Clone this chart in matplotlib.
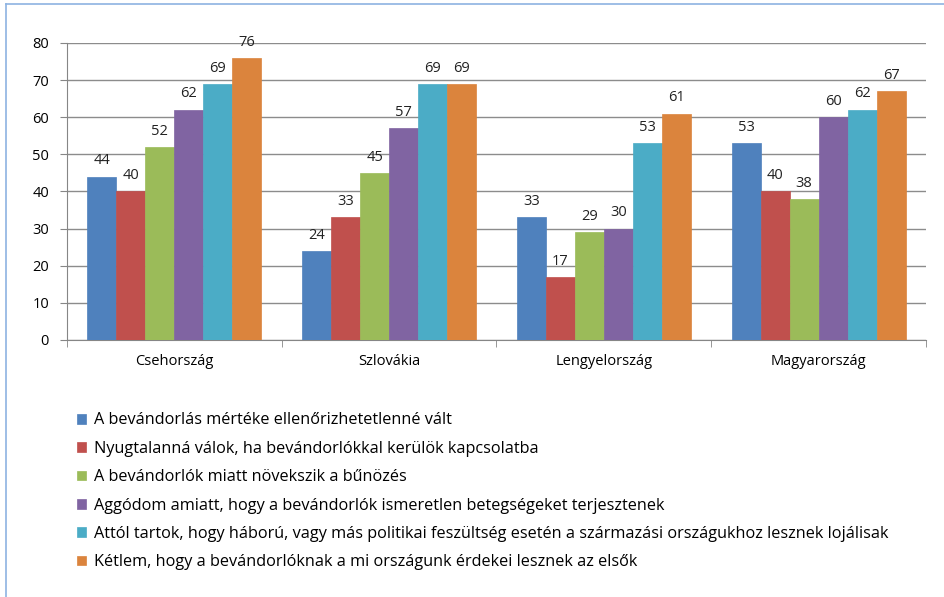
import matplotlib
matplotlib.use("Agg")
import matplotlib.pyplot as plt
import numpy as np
from matplotlib.lines import Line2D

plt.rcParams['font.family'] = ['Open Sans', 'DejaVu Sans']

countries = ["Csehország", "Szlovákia", "Lengyelország", "Magyarország"]
series_names = [
    "A bevándorlás mértéke ellenőrizhetetlenné vált",
    "Nyugtalanná válok, ha bevándorlókkal kerülök kapcsolatba",
    "A bevándorlók miatt növekszik a bűnözés",
    "Aggódom amiatt, hogy a bevándorlók ismeretlen betegségeket terjesztenek",
    "Attól tartok, hogy háború, vagy más politikai feszültség esetén a származási országukhoz lesznek lojálisak",
    "Kétlem, hogy a bevándorlóknak a mi országunk érdekei lesznek az elsők",
]
s1 = [44, 24, 33, 53]
s2 = [40, 33, 17, 40]
s3 = [52, 45, 29, 38]
s4 = [62, 57, 30, 60]
s5 = [69, 69, 53, 62]
s6 = [76, 69, 61, 67]
series = [s1, s2, s3, s4, s5, s6]
colors = ["#4F81BD", "#C0504D", "#9BBB59", "#8064A2", "#4BACC6", "#DB843D"]
yticks = [0, 10, 20, 30, 40, 50, 60, 70, 80]

fig = plt.figure(figsize=(9.45, 5.97), dpi=100)
W, H = 945, 597
ax = fig.add_axes([67 / W, 1 - 340 / H, (926 - 67) / W, (340 - 43) / H])

x = np.arange(len(countries))
bw = 0.135
handles = []
for i, (vals, c) in enumerate(zip(series, colors)):
    pos = x + (i - 2.5) * bw
    b = ax.bar(pos, vals, width=bw, color=c, edgecolor=c, linewidth=0.5, zorder=3, label=series_names[i])
    handles.append(b)
    for p, v in zip(pos, vals):
        ax.annotate(str(v), (p, v), xytext=(0, 6), textcoords="offset points",
                    ha="center", va="bottom", fontsize=10.5, color="#222222")

ax.set_xlim(-0.5, len(countries) - 0.5)
ax.set_ylim(0, 80)
ax.set_yticks(yticks)
ax.set_yticklabels([str(t) for t in yticks], fontsize=10.5)
ax.set_xticks(x)
ax.set_xticklabels(countries, fontsize=10.5)
ax.tick_params(axis='x', length=0, pad=10)
ax.set_xticks(np.arange(len(countries) + 1) - 0.5, minor=True)
ax.tick_params(axis='x', which='minor', length=5, color="#868686", direction='out')
ax.tick_params(axis='y', length=5, color="#868686", direction='out', pad=8)
ax.grid(axis='y', color="#8C8C8C", linewidth=1, zorder=0)
for s in ["top", "right"]:
    ax.spines[s].set_visible(False)
ax.spines["left"].set_color("#868686")
ax.spines["bottom"].set_color("#868686")

fig.legend(handles=handles, labels=series_names, loc="upper left",
           bbox_to_anchor=(71 / W, 1 - 406 / H), frameon=False, fontsize=11.7,
           handlelength=0.55, handleheight=0.55, handletextpad=0.45, labelspacing=0.76,
           borderaxespad=0)

# outer frame (top and left edges visible)
fig.add_artist(Line2D([6 / W, 1], [1 - 4 / H, 1 - 4 / H], transform=fig.transFigure, color="#8DB3E2", linewidth=1.2))
fig.add_artist(Line2D([6 / W, 6 / W], [0, 1 - 4 / H], transform=fig.transFigure, color="#8DB3E2", linewidth=1.2))

fig.savefig("out.png", dpi=100)
